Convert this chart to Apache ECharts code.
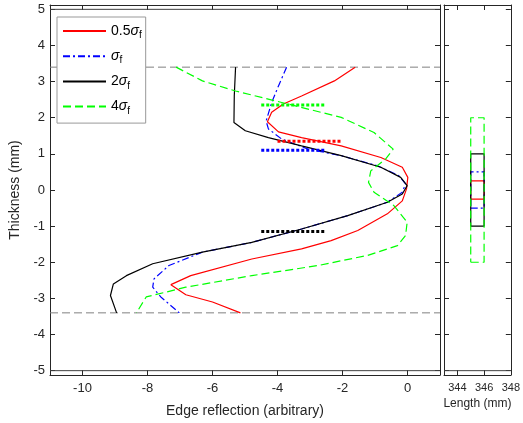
<!DOCTYPE html>
<html><head><meta charset="utf-8">
<script src="https://cdn.jsdelivr.net/npm/echarts@6/dist/echarts.min.js"></script>
<style>html,body{margin:0;padding:0;background:#fff}#c{width:523px;height:423px}</style>
</head><body><div id="c"></div>
<script>
// ---- data ----
const reflTicks = [-10, -8, -6, -4, -2, 0];
const thickTicks = [-5, -4, -3, -2, -1, 0, 1, 2, 3, 4, 5];
const lengthTicks = [344, 346, 348];
const seriesNames = ['0.5σf', 'σf', '2σf', '4σf'];
const seriesColors = ['#ff0000', '#0000ff', '#000000', '#00ff00'];

// 0.5 sigma (red)
const redX = [-1.61,-2.25,-3.26,-3.82,-4.18,-4.31,-3.97,-3.26,-2.04,-0.82,-0.16,0.01,-0.03,-0.16,-0.62,-1.53,-2.35,-3.26,-4.79,-6.67,-7.28,-6.82,-6.0,-5.14];
const redY = [3.4,3.02,2.6,2.38,2.15,1.89,1.61,1.45,1.22,0.9,0.63,0.35,0.03,-0.3,-0.66,-1.12,-1.4,-1.63,-1.91,-2.37,-2.62,-2.9,-3.1,-3.4];
// sigma (blue)
const blueX = [-3.72,-3.97,-4.18,-4.35,-4.28,-3.87,-3.06,-2.04,-0.92,-0.27,-0.06,-0.16,-0.62,-1.84,-3.26,-4.79,-6.31,-7.34,-7.8,-7.84,-7.59,-7.02];
const blueY = [3.4,2.88,2.42,1.91,1.69,1.41,1.13,0.95,0.67,0.4,0.17,-0.06,-0.34,-0.71,-1.08,-1.45,-1.72,-2.09,-2.46,-2.69,-2.96,-3.4];
// 2 sigma (black)
const blackX = [-5.29,-5.33,-5.34,-4.99,-4.28,-3.26,-2.04,-0.82,-0.21,-0.01,-0.16,-0.62,-1.84,-3.26,-4.79,-6.31,-7.84,-8.65,-9.05,-9.14,-8.95];
const blackY = [3.4,2.6,1.87,1.64,1.45,1.22,0.95,0.63,0.35,0.12,-0.11,-0.34,-0.71,-1.08,-1.45,-1.72,-2.04,-2.37,-2.6,-2.92,-3.4];
// 4 sigma (green)
const greenX = [-7.12,-6.31,-5.29,-4.08,-3.06,-2.04,-1.03,-0.44,-0.67,-1.13,-1.2,-1.03,-0.42,-0.01,-0.06,-0.31,-1.23,-2.75,-4.79,-6.82,-8.04,-8.34];
const greenY = [3.4,3.02,2.74,2.47,2.24,2.01,1.59,1.13,0.86,0.53,0.21,-0.06,-0.43,-0.89,-1.26,-1.54,-1.81,-2.09,-2.37,-2.69,-2.96,-3.4];

// dotted markers: [xStart, xEnd, y] per series (red, blue, black, green)
const markerX0 = [-4.0, -4.5, -4.5, -4.5];
const markerX1 = [-2.0, -2.5, -2.5, -2.5];
const markerY = [1.35, 1.1, -1.15, 2.35];

// right panel boxes: half heights and length extents
const boxHalf = [0.25, 0.5, 1, 2];
const boxLen = [345, 346];

// limits / reference lines
const surfaceY = [-3.4, 3.4];
const plateY = [-5, 5];
const reflRange = [-11, 1];
const thickRange = [-5.12, 5.12];
const lengthRange = [343, 348];

// ---- build ----
const font = 'Liberation Sans, Arial, sans-serif';
const txt = '#262626';
const curvesX = [redX, blueX, blackX, greenX];
const curvesY = [redY, blueY, blackY, greenY];
const dashes = ['solid', [7, 3, 2, 3], 'solid', [8, 4]];

function zip(a, b) { return a.map((v, i) => [v, b[i]]); }

const series = [];
surfaceY.forEach(y => series.push({
  type: 'line', xAxisIndex: 0, yAxisIndex: 0, symbol: 'none', silent: true,
  data: [[reflRange[0], y], [reflRange[1], y]],
  lineStyle: { color: '#808080', width: 1, type: [8, 4] }, z: 1
}));
plateY.forEach(y => series.push({
  type: 'line', xAxisIndex: 0, yAxisIndex: 0, symbol: 'none', silent: true,
  data: [[reflRange[0], y], [reflRange[1], y]],
  lineStyle: { color: '#404040', width: 1 }, z: 1
}));
series.push({
  type: 'line', xAxisIndex: 2, yAxisIndex: 2, symbol: 'none', silent: true,
  data: [[lengthRange[0], -5], [lengthRange[1], -5]],
  lineStyle: { color: '#404040', width: 1 }, z: 1
});
for (let i = 0; i < 4; i++) {
  series.push({
    name: seriesNames[i], type: 'line', xAxisIndex: 0, yAxisIndex: 0,
    symbol: 'none', data: zip(curvesX[i], curvesY[i]),
    lineStyle: { color: seriesColors[i], width: 1.2, type: dashes[i] },
    itemStyle: { color: seriesColors[i] }, z: 3 + i
  });
}
for (let i = 0; i < 4; i++) {
  series.push({
    type: 'line', xAxisIndex: 0, yAxisIndex: 0, symbol: 'none', silent: true,
    data: [[markerX0[i], markerY[i]], [markerX1[i], markerY[i]]],
    lineStyle: { color: seriesColors[i], width: 3, type: [3, 2], cap: 'butt' }, z: 8
  });
}
for (let i = 0; i < 4; i++) {
  const h = boxHalf[i];
  series.push({
    type: 'line', xAxisIndex: 2, yAxisIndex: 2, symbol: 'none', silent: true,
    data: [[boxLen[0], -h], [boxLen[1], -h], [boxLen[1], h], [boxLen[0], h], [boxLen[0], -h]],
    lineStyle: { color: seriesColors[i], width: 1.2, type: dashes[i] }, z: 3 + i
  });
}

const tickStyle = { show: true, inside: true, length: 5, lineStyle: { color: txt } };
const lineStyle = { show: true, onZero: false, lineStyle: { color: txt, width: 1 } };

function xAx(grid, range, ticks, pos, labels, fs, extra) {
  return Object.assign({
    type: 'value', gridIndex: grid, position: pos, min: range[0], max: range[1],
    axisLine: lineStyle, splitLine: { show: false },
    axisTick: Object.assign({}, tickStyle, { customValues: ticks }),
    axisLabel: { show: labels, customValues: ticks, color: txt, fontFamily: font, fontSize: fs, margin: 7 }
  }, extra || {});
}
function yAx(grid, pos, labels, extra) {
  return Object.assign({
    type: 'value', gridIndex: grid, position: pos, min: thickRange[0], max: thickRange[1],
    axisLine: lineStyle, splitLine: { show: false },
    axisTick: Object.assign({}, tickStyle, { customValues: thickTicks }),
    axisLabel: { show: labels, customValues: thickTicks, color: txt, fontFamily: font, fontSize: 13, margin: 5 }
  }, extra || {});
}

const option = {
  animation: false,
  backgroundColor: '#fff',
  grid: [
    { left: 47, top: 5, width: 393, height: 370 },
    { left: 444, top: 5, width: 71, height: 370 }
  ],
  xAxis: [
    xAx(0, reflRange, reflTicks, 'bottom', true, 13, {
      name: 'Edge reflection (arbitrary)', nameLocation: 'middle', nameGap: 29,
      nameTextStyle: { color: txt, fontFamily: font, fontSize: 14 }
    }),
    xAx(0, reflRange, reflTicks, 'top', false, 13),
    xAx(1, lengthRange, lengthTicks, 'bottom', true, 11, {
      name: 'Length (mm)', nameLocation: 'middle', nameGap: 19,
      nameTextStyle: { color: txt, fontFamily: font, fontSize: 12 }
    }),
    xAx(1, lengthRange, lengthTicks, 'top', false, 11)
  ],
  yAxis: [
    yAx(0, 'left', true, {
      name: 'Thickness (mm)', nameLocation: 'middle', nameGap: 28,
      nameTextStyle: { color: txt, fontFamily: font, fontSize: 14 }
    }),
    yAx(0, 'right', false),
    yAx(1, 'left', false),
    yAx(1, 'right', false)
  ],
  legend: {
    data: seriesNames, orient: 'vertical', left: 57, top: 17,
    padding: [7, 4, 7, 5], itemWidth: 43, itemHeight: 14, itemGap: 8.7,
    backgroundColor: '#fff', borderColor: '#999', borderWidth: 1, borderRadius: 0,
    selectedMode: false,
    itemStyle: { opacity: 0 },
    formatter: function (name) {
      const pre = name.replace('σf', '');
      return (pre ? '{n|' + pre + '}' : '') + '{s|σ}{f|f}';
    },
    textStyle: {
      color: '#000', fontFamily: font, fontSize: 14,
      rich: {
        n: { fontFamily: font, fontSize: 14, color: '#000' },
        s: { fontFamily: font, fontSize: 14, fontStyle: 'italic', color: '#000' },
        f: { fontFamily: font, fontSize: 10, color: '#000', padding: [9, 0, 0, 0] }
      }
    }
  },
  series: series
};
echarts.init(document.getElementById('c')).setOption(option);
</script>
</body></html>
